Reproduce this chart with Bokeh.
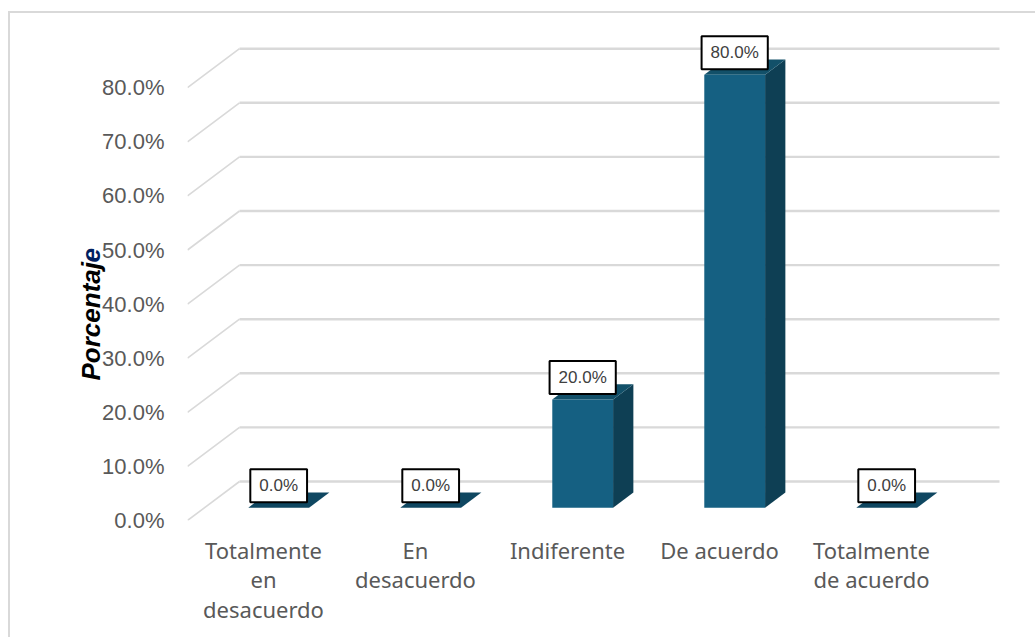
from bokeh.plotting import figure
from bokeh.models import Range1d, FixedTicker, PrintfTickFormatter, Label
from bokeh.embed import file_html
from bokeh.resources import INLINE

categories = ["Totalmente\nen\ndesacuerdo", "En\ndesacuerdo", "Indiferente", "De acuerdo", "Totalmente\nde acuerdo"]
values = [0.0, 0.0, 20.0, 80.0, 0.0]
value_labels = ["0.0%", "0.0%", "20.0%", "80.0%", "0.0%"]
y_ticks = [0, 10, 20, 30, 40, 50, 60, 70, 80]

W, H = 1035, 637
LEFT, BASE = 187, 520              # frame origin inside the canvas
PX_X, PX_Y = 152.0, 5.41           # pixels per category / per percent
DX, DY = 52 / PX_X, 39 / PX_Y      # floor depth, oblique projection
D0, D1 = 0.33, 0.72                # depth span of the bars
BAR0, BAR1 = 0.287, 0.687          # bar span within a category

FRONT, SIDE, TOP, ZERO_TOP = "#156082", "#0E3F54", "#125069", "#0F4761"
GRID, TEXT = "#D9D9D9", "#595959"

p = figure(width=W, height=H, frame_width=W - LEFT, frame_height=BASE,
           output_backend="svg", toolbar_location=None,
           x_range=Range1d(0, (W - LEFT) / PX_X), y_range=Range1d(0, BASE / PX_Y),
           min_border_left=LEFT, min_border_right=0, min_border_top=0,
           min_border_bottom=H - BASE, outline_line_color=None,
           background_fill_color=None, border_fill_color=None)
p.grid.visible = False

# chart border, painted behind the transparent canvas
bar_h = f"linear-gradient({GRID},{GRID}) 8px 11px/100% 2px no-repeat"
bar_v = f"linear-gradient({GRID},{GRID}) 8px 11px/2px 100% no-repeat"
p.styles = {"background": f"{bar_h},{bar_v}"}

# wall + back gridlines
n = len(categories)
p.multi_line([[0, DX] for v in y_ticks], [[v, v + DY] for v in y_ticks], line_color=GRID, line_width=1.6)
p.multi_line([[DX, n + DX] for v in y_ticks], [[v + DY, v + DY] for v in y_ticks], line_color=GRID, line_width=2.4)

def pr(x, y, d):
    return x + d * DX, y + d * DY

for i, v in enumerate(values):
    x0, x1 = i + BAR0, i + BAR1
    fl, fb = pr(x0, 0, D0)
    fr, ft = pr(x1, v, D0)
    _, fb = pr(x1, 0, D0)
    bl, bt = pr(x0, v, D1)
    br, _ = pr(x1, v, D1)
    _, bb = pr(x1, 0, D1)
    if v > 0:
        p.patch([fr, br, br, fr], [fb, bb, bt, ft], color=SIDE, line_width=0)
    p.patch([fl, fr, br, bl], [ft, ft, bt, bt], color=TOP if v > 0 else ZERO_TOP, line_width=0)
    if v > 0:
        p.quad(left=fl, right=fr, bottom=fb, top=ft, color=FRONT, line_width=0)
    p.add_layout(Label(x=(fl + fr) / 2, y=ft, y_offset=22, text=value_labels[i],
                       text_align="center", text_baseline="middle",
                       text_font="Liberation Sans", text_font_size="17px", text_color="#404040",
                       background_fill_color="white", border_line_color="black", border_line_width=2,
                       padding=(9, 9, 7, 7)))

# axes
ya = p.yaxis[0]
ya.ticker = FixedTicker(ticks=y_ticks)
ya.formatter = PrintfTickFormatter(format="%.1f%%")
ya.axis_line_color = None
ya.major_tick_line_color = None
ya.minor_tick_line_color = None
ya.major_label_standoff = 17
ya.major_label_text_font = "Liberation Sans"
ya.major_label_text_font_size = "22px"
ya.major_label_text_color = TEXT

p.xaxis.visible = False
for i, c in enumerate(categories):
    for k, line in enumerate(c.split("\n")):
        p.add_layout(Label(x=i + 0.5, y=0, y_offset=-29.5 - 29.3 * k, text=line,
                           text_align="center", text_baseline="middle",
                           text_font="Noto Sans", text_font_size="22px", text_color=TEXT), "below")

# two-coloured axis title
p.add_layout(Label(x=90, y=380, x_units="canvas", y_units="canvas", text="Porcentaj", angle=90, angle_units="deg",
                   text_font="Liberation Sans", text_font_style="bold italic", text_font_size="26px",
                   text_color="black", text_baseline="alphabetic", text_align="left"), "left")
p.add_layout(Label(x=90, y=262, x_units="canvas", y_units="canvas", text="e", angle=90, angle_units="deg",
                   text_font="Liberation Sans", text_font_style="bold italic", text_font_size="26px",
                   text_color="#002060", text_baseline="alphabetic", text_align="left"), "left")

open("out.html", "w").write(file_html(p, INLINE))
